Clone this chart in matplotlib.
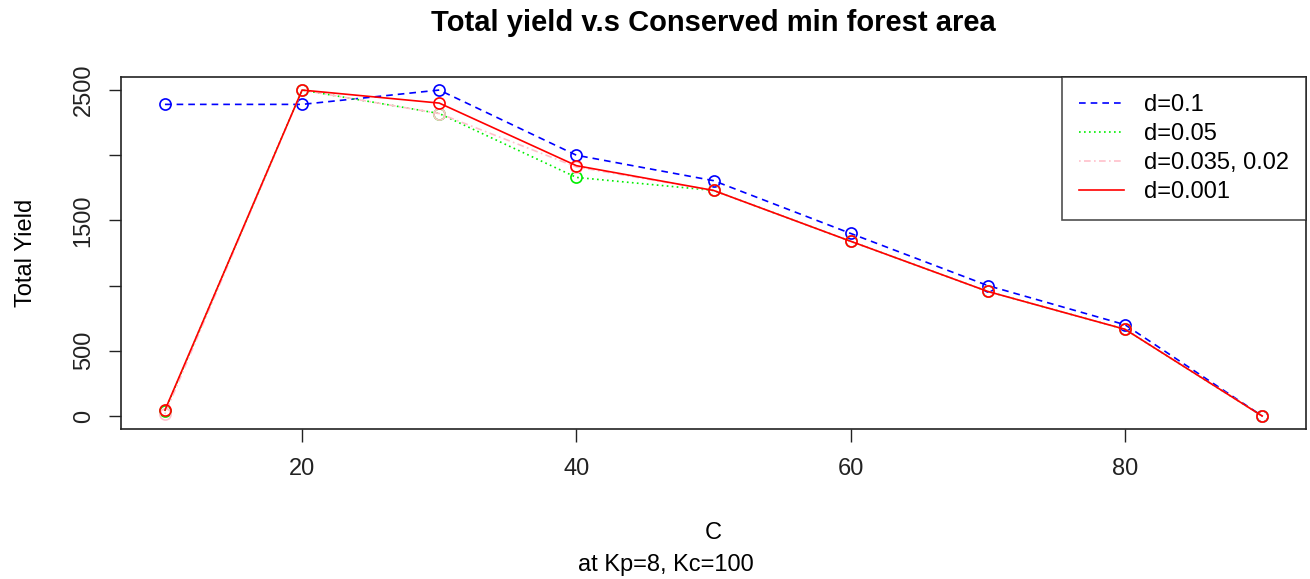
import matplotlib.pyplot as plt

plt.rcParams['font.family'] = ['Liberation Sans', 'DejaVu Sans']

C = [10, 20, 30, 40, 50, 60, 70, 80, 90]
y_d01 = [2390, 2390, 2500, 2000, 1805, 1400, 1000, 700, 0]
y_d005 = [40, 2500, 2320, 1830, 1730, 1340, 955, 665, 0]
y_d0035 = [15, 2500, 2320, 1910, 1730, 1340, 955, 665, 0]
y_d0001 = [45, 2500, 2400, 1920, 1730, 1340, 955, 665, 0]

labels = ['d=0.1', 'd=0.05', 'd=0.035, 0.02', 'd=0.001']
colors = ['blue', '#00ee00', 'pink', 'red']
styles = [(0, (4, 3)), (0, (1, 2)), (0, (1, 2, 4, 2)), '-']
series = [y_d01, y_d005, y_d0035, y_d0001]

fig = plt.figure(figsize=(13.1, 5.79), dpi=100)
ax = fig.add_axes([0.0924, 0.259, 0.9046, 0.608])

# draw order: blue, green, pink, red (red on top of pink)
for ys, lab, col, ls in zip(series, labels, colors, styles):
    ax.plot(C, ys, color=col, linestyle=ls, linewidth=1.2, label=lab,
            marker='o', markersize=8, markerfacecolor='none',
            markeredgecolor=col, markeredgewidth=1.2)

ax.set_xlim(6.8, 93.2)
ax.set_ylim(-100, 2600)
ax.set_xticks([20, 40, 60, 80])
ax.set_yticks([0, 500, 1000, 1500, 2000, 2500])
ax.set_yticklabels(['0', '500', '', '1500', '', '2500'], rotation=90, va='center')
ax.tick_params(axis='both', direction='out', length=9, width=1, labelsize=17, colors='#222222')
ax.tick_params(axis='x', pad=12)
ax.tick_params(axis='y', pad=10)
for s in ax.spines.values():
    s.set_linewidth(1.2)
    s.set_color('#222222')

ax.set_title('Total yield v.s Conserved min forest area', fontsize=21, fontweight='bold', pad=33)
ax.set_xlabel('C', fontsize=17, labelpad=30)
ax.set_ylabel('Total Yield', fontsize=17, labelpad=26)
fig.text(0.508, 0.005, 'at Kp=8, Kc=100', ha='center', va='bottom', fontsize=17)

leg = ax.legend(loc='upper right', fontsize=17, frameon=True, fancybox=False,
                edgecolor='#222222', handlelength=1.9, handletextpad=0.85,
                borderpad=0.72, labelspacing=0.3, borderaxespad=0)
leg.get_frame().set_linewidth(1.2)
for h in leg.legend_handles:
    h.set_marker('')

fig.savefig('out.png', dpi=100)
